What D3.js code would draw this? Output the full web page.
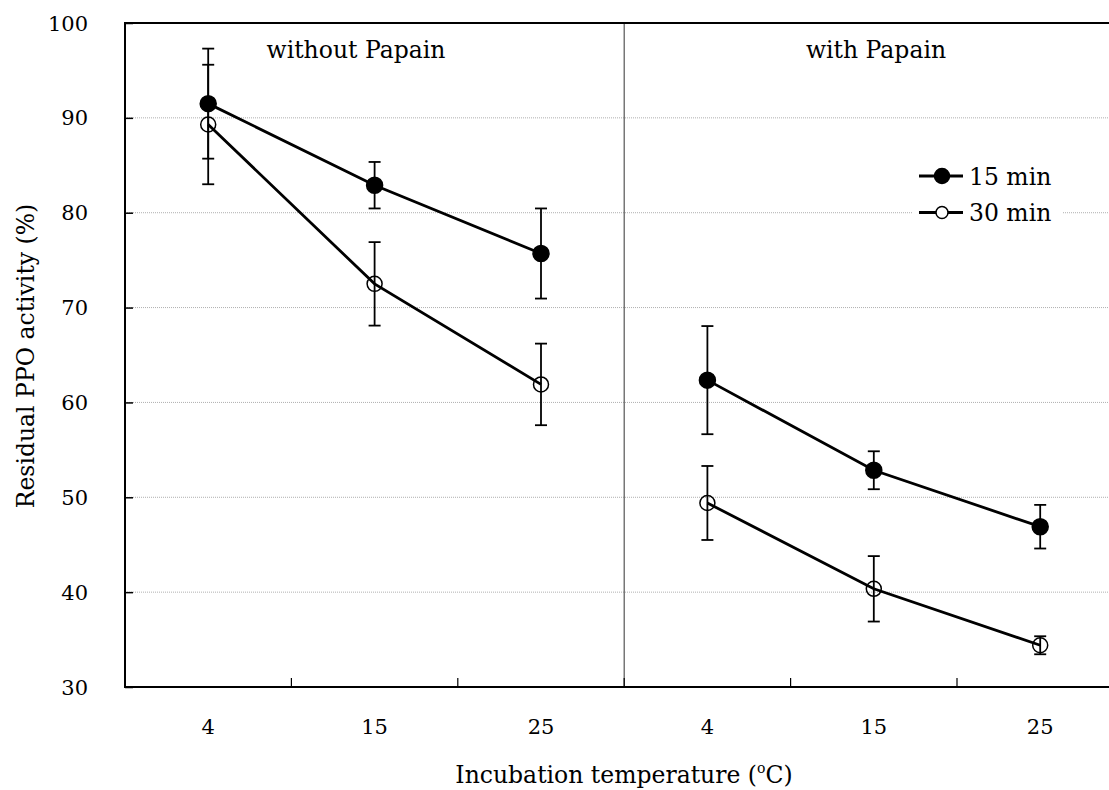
<!DOCTYPE html>
<html><head><meta charset="utf-8">
<script src="https://cdn.jsdelivr.net/npm/d3@7"></script>
<style>body{margin:0;background:#fff}svg{display:block}text{font-family:"DejaVu Serif",serif;fill:#000}</style>
</head><body><svg id="c" width="1109" height="790"></svg>
<script>
const categories = ["w4","w15","w25","p4","p15","p25"];
const tickLabels = ["4","15","25","4","15","25"];
const panelLabels = ["without Papain","with Papain"];
const seriesNames = ["15 min","30 min"];
const min15 = [91.5, 82.9, 75.7, 62.35, 52.85, 46.9];
const min15Err = [5.8, 2.45, 4.75, 5.7, 2.0, 2.3];
const min30 = [89.3, 72.5, 61.9, 49.4, 40.35, 34.4];
const min30Err = [6.3, 4.4, 4.3, 3.9, 3.45, 0.95];
const yTicks = [30,40,50,60,70,80,90,100];

const svg = d3.select("#c");
const L = 125, T = 23, B = 687, step = 166.4;
const x = d3.scaleBand().domain(categories).range([L, L + step*6]).padding(0);
const y = d3.scaleLinear().domain([30,100]).range([B, T]);
const cx = c => x(c) + x.bandwidth()/2;
const FT = 23.5, FN = 21;

// gridlines
svg.append("g").selectAll("line").data(yTicks.filter(v=>v>30 && v<100)).join("line")
  .attr("x1", L).attr("x2", 1109).attr("y1", d=>y(d)).attr("y2", d=>y(d))
  .attr("stroke", "#9a9a9a").attr("stroke-width", 0.8).attr("stroke-dasharray","1,1");

// separator
svg.append("line").attr("x1", x("p4")).attr("x2", x("p4")).attr("y1", T).attr("y2", B)
  .attr("stroke", "#555").attr("stroke-width", 1.2);

// top frame line
svg.append("line").attr("x1", L).attr("x2", 1109).attr("y1", T).attr("y2", T).attr("stroke","#000").attr("stroke-width",2);

// Y axis
const yAxis = svg.append("g").attr("transform", `translate(${L},0)`)
  .call(d3.axisRight(y).tickValues(yTicks).tickSize(8).tickFormat(""));
yAxis.select(".domain").remove();
yAxis.selectAll(".tick line").attr("stroke","#000").attr("stroke-width",1.5);
svg.append("line").attr("x1", L).attr("x2", L).attr("y1", T-1).attr("y2", B+1).attr("stroke","#000").attr("stroke-width",2);
svg.append("g").selectAll("text").data(yTicks).join("text")
  .attr("x", 88).attr("y", d=>y(d)+7.5).attr("text-anchor","end").attr("font-size",FN).text(d=>d);

// X axis
const boundaries = categories.slice(1);
svg.append("g").selectAll("line").data(boundaries).join("line")
  .attr("x1", d=>x(d)).attr("x2", d=>x(d)).attr("y1", B).attr("y2", B-9)
  .attr("stroke","#000").attr("stroke-width",1.2);
svg.append("line").attr("x1", L-1).attr("x2", 1109).attr("y1", B).attr("y2", B).attr("stroke","#000").attr("stroke-width",2);
svg.append("g").selectAll("text").data(categories).join("text")
  .attr("x", d=>cx(d)).attr("y", 734).attr("text-anchor","middle").attr("font-size",FN)
  .text((d,i)=>tickLabels[i]);

// axis titles
const xt = svg.append("text").attr("x", 624).attr("y", 783).attr("text-anchor","middle").attr("font-size",FT);
xt.append("tspan").text("Incubation temperature (");
xt.append("tspan").attr("font-size",14).attr("dy",-10).text("o");
xt.append("tspan").attr("dy",10).text("C)");
svg.append("text").attr("transform","translate(34,356) rotate(-90)").attr("text-anchor","middle")
  .attr("font-size",FT).text("Residual PPO activity (%)");

// panel labels
svg.append("text").attr("x", 356).attr("y", 58).attr("text-anchor","middle").attr("font-size",FT).text(panelLabels[0]);
svg.append("text").attr("x", 876).attr("y", 58).attr("text-anchor","middle").attr("font-size",FT).text(panelLabels[1]);

// series
const series = [
  {vals:min15, err:min15Err, filled:true},
  {vals:min30, err:min30Err, filled:false}
];
const line = d3.line().x(d=>cx(d.c)).y(d=>y(d.v));
series.forEach(s=>{
  const pts = categories.map((c,i)=>({c, v:s.vals[i], e:s.err[i]}));
  const g = svg.append("g");
  pts.forEach(p=>{
    g.append("line").attr("x1",cx(p.c)).attr("x2",cx(p.c)).attr("y1",y(p.v+p.e)).attr("y2",y(p.v-p.e))
      .attr("stroke","#000").attr("stroke-width",1.8);
    [p.v+p.e, p.v-p.e].forEach(v=>g.append("line").attr("x1",cx(p.c)-6).attr("x2",cx(p.c)+6)
      .attr("y1",y(v)).attr("y2",y(v)).attr("stroke","#000").attr("stroke-width",1.8));
  });
  [pts.slice(0,3), pts.slice(3)].forEach(seg=>{
    g.append("path").datum(seg).attr("d", line).attr("fill","none").attr("stroke","#000").attr("stroke-width",2.8);
  });
  g.selectAll("circle").data(pts).join("circle").attr("cx",d=>cx(d.c)).attr("cy",d=>y(d.v))
    .attr("r", s.filled?8:7.5).attr("fill", s.filled?"#000":"none").attr("stroke","#000").attr("stroke-width",1.5);
});

// legend
const lg = svg.append("g");
lg.append("rect").attr("x",913).attr("y",158).attr("width",150).attr("height",72).attr("fill","#fff");
seriesNames.forEach((n,i)=>{
  const yy = 176 + i*36.5;
  lg.append("line").attr("x1",919).attr("x2",963).attr("y1",yy).attr("y2",yy).attr("stroke","#000").attr("stroke-width",2.8);
  lg.append("circle").attr("cx",942).attr("cy",yy).attr("r", i===0?7.5:6)
    .attr("fill", i===0?"#000":"#fff").attr("stroke","#000").attr("stroke-width",1.5);
  lg.append("text").attr("x",969).attr("y",yy+8.5).attr("font-size",FT).text(n);
});
</script></body></html>
